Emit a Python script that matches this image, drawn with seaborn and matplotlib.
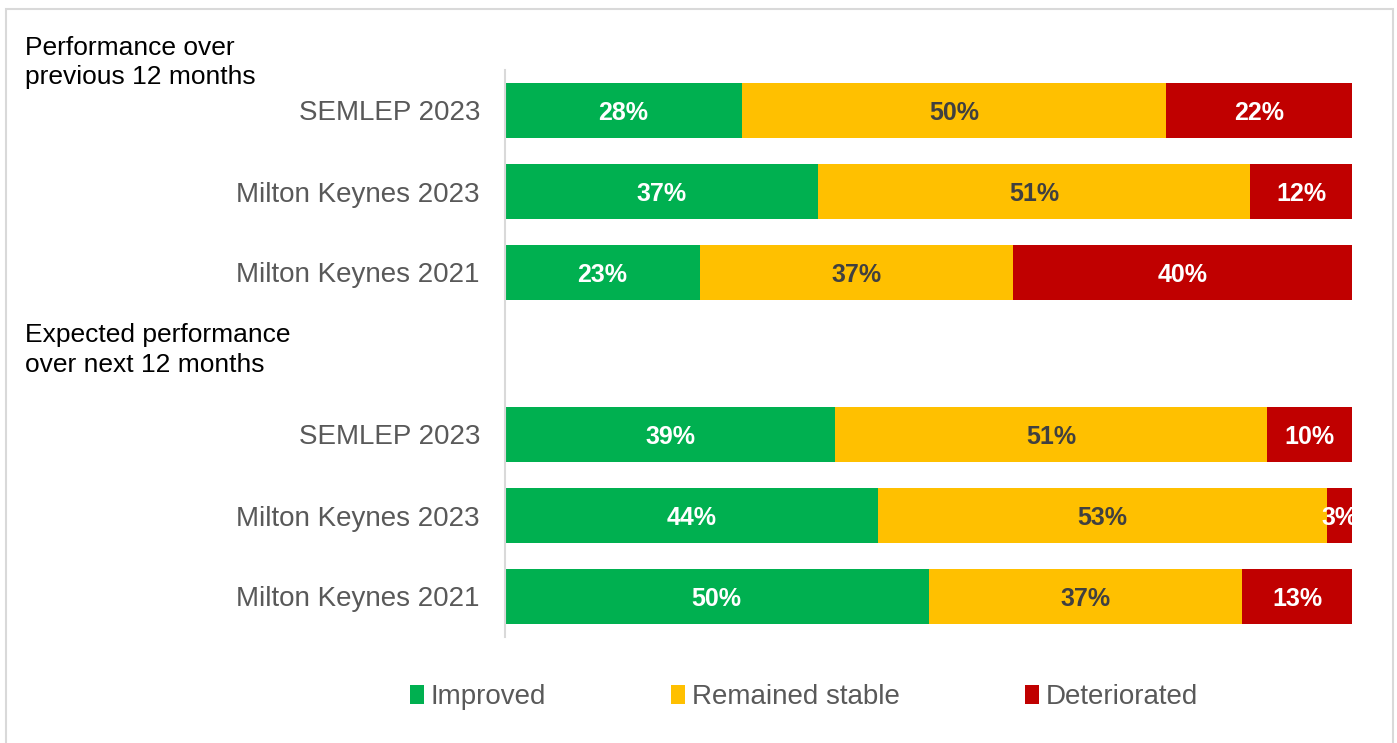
import matplotlib
matplotlib.use("Agg")
import matplotlib.pyplot as plt
from matplotlib.patches import Rectangle, Patch
import numpy as np
import pandas as pd
import seaborn as sns

# Survey results: share of businesses by performance outcome (%)
row_keys = ["prev_semlep23", "prev_mk23", "prev_mk21", "gap",
            "next_semlep23", "next_mk23", "next_mk21"]
row_labels = ["SEMLEP 2023", "Milton Keynes 2023", "Milton Keynes 2021", "",
              "SEMLEP 2023", "Milton Keynes 2023", "Milton Keynes 2021"]
improved = [28, 37, 23, np.nan, 39, 44, 50]
stable = [50, 51, 37, np.nan, 51, 53, 37]
deteriorated = [22, 12, 40, np.nan, 10, 3, 13]

series_names = ["Improved", "Remained stable", "Deteriorated"]
colors = ["#00B050", "#FFC000", "#C00000"]
label_colors = ["white", "#404040", "white"]

sns.set_theme(style="white")
plt.rcParams["font.family"] = ["Liberation Sans", "DejaVu Sans"]

df = pd.DataFrame({
    "row": row_keys,
    "Improved": improved,
    "Remained stable": stable,
    "Deteriorated": deteriorated,
})
df = df[df["row"] != "gap"].copy()
df["c1"] = df["Improved"]
df["c2"] = df["Improved"] + df["Remained stable"]
df["c3"] = df["c2"] + df["Deteriorated"]

fig = plt.figure(figsize=(13.97, 7.43), dpi=100)
W, H = 1397, 743
ax = fig.add_axes([505 / W, 1 - 637 / H, (1352 - 505) / W, (637 - 70) / H])

# Stacked bars drawn as cumulative layers, widest first
for cum, col in zip(["c3", "c2", "c1"], colors[::-1]):
    sns.barplot(data=df, x=cum, y="row", order=row_keys, orient="h",
                color=col, width=0.667, saturation=1, linewidth=0, ax=ax)

ax.set_xlim(0, 100)
ax.set_ylim(6.5, -0.5)
ax.set_xlabel("")
ax.set_ylabel("")
ax.set_xticks([])
ax.set_yticks(range(len(row_keys)))
ax.set_yticklabels(row_labels, fontsize=20, color="#595959")
ax.tick_params(axis="y", length=0, pad=18)
for side in ["top", "right", "bottom"]:
    ax.spines[side].set_visible(False)
ax.spines["left"].set_color("#D9D9D9")
ax.spines["left"].set_linewidth(1.5)

# Value labels centred in each segment
for i, key in enumerate(row_keys):
    if key == "gap":
        continue
    r = df[df["row"] == key].iloc[0]
    left = 0
    for name, tc in zip(series_names, label_colors):
        v = r[name]
        ax.text(left + v / 2, i, f"{v:.0f}%", ha="center", va="center_baseline",
                fontsize=18, fontweight="bold", color=tc)
        left += v

# Section headers
for y, txt in [(55, "Performance over"), (84, "previous 12 months"),
               (342, "Expected performance"), (372, "over next 12 months")]:
    fig.text(25 / W, 1 - y / H, txt, ha="left", va="baseline",
             fontsize=19, color="black")

# Legend
handles = [Patch(facecolor=c, edgecolor="none", label=n)
           for c, n in zip(colors, series_names)]
leg = fig.legend(handles=handles, loc="center", bbox_to_anchor=(804 / W, 1 - 697 / H),
                 ncol=3, frameon=False, fontsize=20, handlelength=0.5,
                 handleheight=0.7, handletextpad=0.25, columnspacing=4.5)
for t in leg.get_texts():
    t.set_color("#595959")

# Outer frame
fig.patches.append(Rectangle((5.5 / W, -0.01), (1393 - 5.5) / W, 1 - 8.5 / H + 0.01,
                             transform=fig.transFigure, fill=False,
                             edgecolor="#D9D9D9", linewidth=1.5))

fig.savefig("out.png", dpi=100)
